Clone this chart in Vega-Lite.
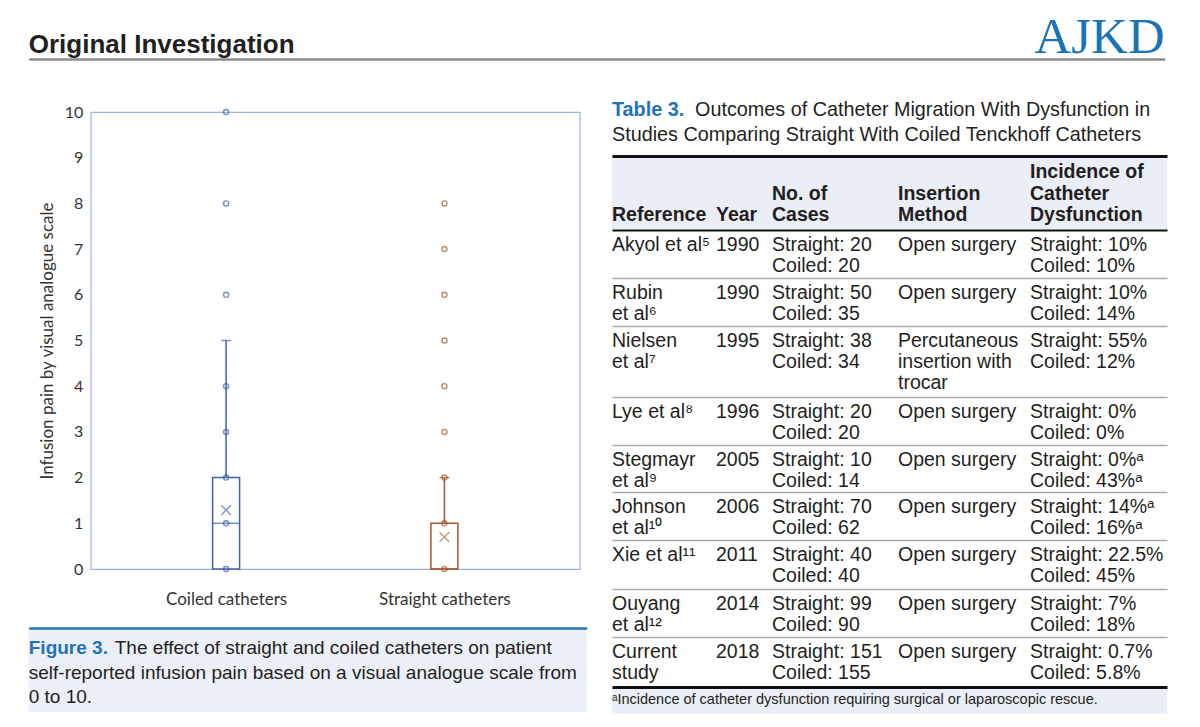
{
  "$schema": "https://vega.github.io/schema/vega-lite/v6.json",
  "background": "white",
  "padding": {"left": 28.75, "top": 0, "right": 0, "bottom": 0},
  "config": {
    "view": {"stroke": null},
    "text": {"font": "Liberation Sans", "fill": "#231F20"}
  },
  "datasets": {
    "header": [
      {"item": "section", "text": "Original Investigation"},
      {"item": "journal", "text": "AJKD"}
    ],
    "summary": [
      {"group": "Coiled catheters", "lower": 0, "q1": 0, "median": 1, "q3": 2, "upper": 5, "mean": 1.29},
      {"group": "Straight catheters", "lower": 0, "q1": 0, "median": 0, "q3": 1, "upper": 2, "mean": 0.7}
    ],
    "points": [
      {"group": "Coiled catheters", "value": 0},
      {"group": "Coiled catheters", "value": 1},
      {"group": "Coiled catheters", "value": 2},
      {"group": "Coiled catheters", "value": 3},
      {"group": "Coiled catheters", "value": 4},
      {"group": "Coiled catheters", "value": 6},
      {"group": "Coiled catheters", "value": 8},
      {"group": "Coiled catheters", "value": 10},
      {"group": "Straight catheters", "value": 0},
      {"group": "Straight catheters", "value": 1},
      {"group": "Straight catheters", "value": 2},
      {"group": "Straight catheters", "value": 3},
      {"group": "Straight catheters", "value": 4},
      {"group": "Straight catheters", "value": 5},
      {"group": "Straight catheters", "value": 6},
      {"group": "Straight catheters", "value": 7},
      {"group": "Straight catheters", "value": 8}
    ],
    "caption": [
      {"line": 1, "part": "label", "text": "Figure 3."},
      {"line": 1, "part": "text", "text": "The effect of straight and coiled catheters on patient"},
      {"line": 2, "part": "text", "text": "self-reported infusion pain based on a visual analogue scale from"},
      {"line": 3, "part": "text", "text": "0 to 10."}
    ],
    "tableTitle": [
      {"line": 1, "part": "label", "text": "Table 3."},
      {"line": 1, "part": "text", "text": "Outcomes of Catheter Migration With Dysfunction in"},
      {"line": 2, "part": "text", "text": "Studies Comparing Straight With Coiled Tenckhoff Catheters"}
    ],
    "tableHead": [
      {"col": 0, "line": 3, "text": "Reference"},
      {"col": 1, "line": 3, "text": "Year"},
      {"col": 2, "line": 2, "text": "No. of"},
      {"col": 2, "line": 3, "text": "Cases"},
      {"col": 3, "line": 2, "text": "Insertion"},
      {"col": 3, "line": 3, "text": "Method"},
      {"col": 4, "line": 1, "text": "Incidence of"},
      {"col": 4, "line": 2, "text": "Catheter"},
      {"col": 4, "line": 3, "text": "Dysfunction"}
    ],
    "tableBody": [
      {"row": 1, "col": 0, "text": "Akyol et al⁵"},
      {"row": 1, "col": 1, "text": "1990"},
      {"row": 1, "col": 2, "text": "Straight: 20\nCoiled: 20"},
      {"row": 1, "col": 3, "text": "Open surgery"},
      {"row": 1, "col": 4, "text": "Straight: 10%\nCoiled: 10%"},
      {"row": 2, "col": 0, "text": "Rubin\net al⁶"},
      {"row": 2, "col": 1, "text": "1990"},
      {"row": 2, "col": 2, "text": "Straight: 50\nCoiled: 35"},
      {"row": 2, "col": 3, "text": "Open surgery"},
      {"row": 2, "col": 4, "text": "Straight: 10%\nCoiled: 14%"},
      {"row": 3, "col": 0, "text": "Nielsen\net al⁷"},
      {"row": 3, "col": 1, "text": "1995"},
      {"row": 3, "col": 2, "text": "Straight: 38\nCoiled: 34"},
      {"row": 3, "col": 3, "text": "Percutaneous\ninsertion with\ntrocar"},
      {"row": 3, "col": 4, "text": "Straight: 55%\nCoiled: 12%"},
      {"row": 4, "col": 0, "text": "Lye et al⁸"},
      {"row": 4, "col": 1, "text": "1996"},
      {"row": 4, "col": 2, "text": "Straight: 20\nCoiled: 20"},
      {"row": 4, "col": 3, "text": "Open surgery"},
      {"row": 4, "col": 4, "text": "Straight: 0%\nCoiled: 0%"},
      {"row": 5, "col": 0, "text": "Stegmayr\net al⁹"},
      {"row": 5, "col": 1, "text": "2005"},
      {"row": 5, "col": 2, "text": "Straight: 10\nCoiled: 14"},
      {"row": 5, "col": 3, "text": "Open surgery"},
      {"row": 5, "col": 4, "text": "Straight: 0%ᵃ\nCoiled: 43%ᵃ"},
      {"row": 6, "col": 0, "text": "Johnson\net al¹⁰"},
      {"row": 6, "col": 1, "text": "2006"},
      {"row": 6, "col": 2, "text": "Straight: 70\nCoiled: 62"},
      {"row": 6, "col": 3, "text": "Open surgery"},
      {"row": 6, "col": 4, "text": "Straight: 14%ᵃ\nCoiled: 16%ᵃ"},
      {"row": 7, "col": 0, "text": "Xie et al¹¹"},
      {"row": 7, "col": 1, "text": "2011"},
      {"row": 7, "col": 2, "text": "Straight: 40\nCoiled: 40"},
      {"row": 7, "col": 3, "text": "Open surgery"},
      {"row": 7, "col": 4, "text": "Straight: 22.5%\nCoiled: 45%"},
      {"row": 8, "col": 0, "text": "Ouyang\net al¹²"},
      {"row": 8, "col": 1, "text": "2014"},
      {"row": 8, "col": 2, "text": "Straight: 99\nCoiled: 90"},
      {"row": 8, "col": 3, "text": "Open surgery"},
      {"row": 8, "col": 4, "text": "Straight: 7%\nCoiled: 18%"},
      {"row": 9, "col": 0, "text": "Current\nstudy"},
      {"row": 9, "col": 1, "text": "2018"},
      {"row": 9, "col": 2, "text": "Straight: 151\nCoiled: 155"},
      {"row": 9, "col": 3, "text": "Open surgery"},
      {"row": 9, "col": 4, "text": "Straight: 0.7%\nCoiled: 5.8%"}
    ],
    "footnote": [
      {"text": "ᵃIncidence of catheter dysfunction requiring surgical or laparoscopic rescue."}
    ]
  },
  "spacing": 0,
  "vconcat": [
    {
      "width": 1136,
      "height": 59,
      "data": {"name": "header"},
      "encoding": {
        "x": {"field": "item", "type": "nominal", "scale": {"type": "point", "domain": ["section", "journal"], "padding": 0},
              "axis": {"orient": "bottom", "labels": false, "ticks": false, "grid": false, "title": null, "domain": true, "domainColor": "#8C8C8C", "domainWidth": 2.5}},
        "text": {"field": "text"}
      },
      "layer": [
        {"transform": [{"filter": "datum.item === 'section'"}],
         "mark": {"type": "text", "align": "left", "baseline": "alphabetic", "dy": 23.5, "font": "Liberation Sans", "fontSize": 26, "fontWeight": "bold", "fill": "#231F20"}},
        {"transform": [{"filter": "datum.item === 'journal'"}],
         "mark": {"type": "text", "align": "right", "baseline": "alphabetic", "dy": 23.5, "font": "Liberation Serif", "fontSize": 51, "fill": "#1B74B8"}}
      ]
    },
    {
      "spacing": 25.25,
      "hconcat": [
        {
          "spacing": 20,
          "vconcat": [
            {"width": 1, "height": 19.6, "data": {"values": []}, "mark": {"type": "point", "opacity": 0}, "encoding": {}},
            {
              "spacing": 0,
              "hconcat": [
                {"width": 8, "height": 1, "data": {"values": []}, "mark": {"type": "point", "opacity": 0}, "encoding": {}},
                {
                  "width": 489,
                  "height": 457,
                  "view": {"stroke": "#9DB3DE", "strokeWidth": 1.2, "fill": "white"},
                  "encoding": {
                    "x": {"field": "group", "type": "nominal",
                          "scale": {"type": "point", "domain": ["Coiled catheters", "Straight catheters"], "padding": 0.62},
                          "axis": {"title": null, "ticks": false, "tickSize": 0, "domain": false, "grid": false, "labelPadding": 22, "labelAngle": 0, "labelFont": "Lato", "labelFontSize": 17, "labelColor": "#333333"}}
                  },
                  "layer": [
                    {"data": {"name": "summary"},
                     "mark": {"type": "rule", "strokeWidth": 1.5},
                     "encoding": {
                       "y": {"field": "q3", "type": "quantitative", "title": "Infusion pain by visual analogue scale",
                             "scale": {"domain": [0, 10], "nice": false},
                             "axis": {"values": [0, 1, 2, 3, 4, 5, 6, 7, 8, 9, 10], "grid": false, "ticks": false, "tickSize": 0, "domain": false, "labelPadding": 8, "labelFont": "Lato", "labelFontSize": 16, "labelColor": "#333333", "titleFont": "Lato", "titleFontSize": 17, "titleFontWeight": "normal", "titleColor": "#333333", "titlePadding": 8}},
                       "y2": {"field": "upper"},
                       "color": {"field": "group", "type": "nominal", "scale": {"domain": ["Coiled catheters", "Straight catheters"], "range": ["#3F62AC", "#A4572C"]}, "legend": null}
                     }},
                    {"data": {"name": "summary"},
                     "mark": {"type": "rule", "strokeWidth": 1.5},
                     "encoding": {
                       "y": {"field": "lower", "type": "quantitative", "title": "Infusion pain by visual analogue scale"},
                       "y2": {"field": "q1"},
                       "color": {"field": "group", "type": "nominal", "legend": null}
                     }},
                    {"data": {"name": "summary"},
                     "mark": {"type": "bar", "size": 27, "fill": "white", "strokeWidth": 1.5},
                     "encoding": {
                       "y": {"field": "q1", "type": "quantitative", "title": "Infusion pain by visual analogue scale"},
                       "y2": {"field": "q3"},
                       "stroke": {"field": "group", "type": "nominal", "scale": {"domain": ["Coiled catheters", "Straight catheters"], "range": ["#3F62AC", "#A4572C"]}, "legend": null}
                     }},
                    {"data": {"name": "summary"},
                     "mark": {"type": "tick", "orient": "horizontal", "size": 27, "thickness": 1.5},
                     "encoding": {
                       "y": {"field": "median", "type": "quantitative", "title": "Infusion pain by visual analogue scale"},
                       "color": {"field": "group", "type": "nominal", "legend": null}
                     }},
                    {"data": {"name": "summary"},
                     "mark": {"type": "tick", "orient": "horizontal", "size": 10, "thickness": 1.5},
                     "encoding": {
                       "y": {"field": "upper", "type": "quantitative", "title": "Infusion pain by visual analogue scale"},
                       "color": {"field": "group", "type": "nominal", "legend": null}
                     }},
                    {"data": {"name": "summary"},
                     "mark": {"type": "point", "shape": "M-1,-1L1,1M-1,1L1,-1", "size": 95, "filled": false, "strokeWidth": 1.3},
                     "encoding": {
                       "y": {"field": "mean", "type": "quantitative", "title": "Infusion pain by visual analogue scale"},
                       "color": {"field": "group", "type": "nominal", "legend": null}
                     }},
                    {"data": {"name": "points"},
                     "mark": {"type": "point", "shape": "circle", "size": 26, "filled": false, "strokeWidth": 1.4},
                     "encoding": {
                       "y": {"field": "value", "type": "quantitative", "title": "Infusion pain by visual analogue scale"},
                       "color": {"field": "group", "type": "nominal", "legend": null}
                     }}
                  ]
                }
              ]
            },
            {
              "width": 558,
              "height": 84,
              "view": {"fill": "#EBF0F8", "stroke": null},
              "data": {"name": "caption"},
              "encoding": {
                "x": {"datum": 0, "type": "quantitative", "scale": {"domain": [0, 1]},
                      "axis": {"orient": "top", "labels": false, "ticks": false, "grid": false, "title": null, "domain": true, "domainColor": "#2176B6", "domainWidth": 2.5}},
                "y": {"field": "line", "type": "quantitative", "scale": {"domain": [1, 3], "range": [26, 75]}, "axis": null},
                "text": {"field": "text"}
              },
              "layer": [
                {"transform": [{"filter": "datum.part === 'label'"}],
                 "mark": {"type": "text", "align": "left", "baseline": "alphabetic", "font": "Liberation Sans", "fontSize": 19, "fontWeight": "bold", "fill": "#1E73B8"}},
                {"transform": [{"filter": "datum.part === 'text' && datum.line === 1"}],
                 "mark": {"type": "text", "align": "left", "baseline": "alphabetic", "font": "Liberation Sans", "fontSize": 19, "fill": "#231F20", "dx": 86}},
                {"transform": [{"filter": "datum.part === 'text' && datum.line > 1"}],
                 "mark": {"type": "text", "align": "left", "baseline": "alphabetic", "font": "Liberation Sans", "fontSize": 19, "fill": "#231F20"}}
              ]
            }
          ]
        },
        {
          "spacing": 0,
          "bounds": "flush",
          "vconcat": [
            {
              "width": 555,
              "height": 92.6,
              "data": {"name": "tableTitle"},
              "encoding": {
                "x": {"datum": 0, "type": "quantitative", "scale": {"domain": [0, 1]}, "axis": null},
                "y": {"field": "line", "type": "quantitative", "scale": {"domain": [1, 2], "range": [52.6, 78.3]}, "axis": null},
                "text": {"field": "text"}
              },
              "layer": [
                {"transform": [{"filter": "datum.part === 'label'"}],
                 "mark": {"type": "text", "align": "left", "baseline": "alphabetic", "font": "Liberation Sans", "fontSize": 19.8, "fontWeight": "bold", "fill": "#1E73B8"}},
                {"transform": [{"filter": "datum.part === 'text' && datum.line === 1"}],
                 "mark": {"type": "text", "align": "left", "baseline": "alphabetic", "font": "Liberation Sans", "fontSize": 19.8, "fill": "#231F20", "dx": 83}},
                {"transform": [{"filter": "datum.part === 'text' && datum.line > 1"}],
                 "mark": {"type": "text", "align": "left", "baseline": "alphabetic", "font": "Liberation Sans", "fontSize": 19.8, "fill": "#231F20"}}
              ]
            },
            {
              "width": 555,
              "height": 73.3,
              "view": {"fill": "#E9EEF7", "stroke": null},
              "data": {"name": "tableHead"},
              "mark": {"type": "text", "align": "left", "baseline": "alphabetic", "font": "Liberation Sans", "fontSize": 19.5, "fontWeight": "bold", "fill": "#231F20"},
              "encoding": {
                "x": {"field": "col", "type": "quantitative", "scale": {"domain": [0, 1, 2, 3, 4, 5], "range": [0, 104, 160, 286, 418, 555], "nice": false, "zero": false},
                      "axis": {"orient": "top", "labels": false, "ticks": false, "grid": false, "title": null, "domain": true, "domainColor": "#111111", "domainWidth": 3}},
                "y": {"field": "line", "type": "quantitative", "scale": {"domain": [1, 3], "range": [22, 65]}, "axis": null},
                "text": {"field": "text"}
              }
            },
            {
              "width": 555,
              "height": 456.7,
              "data": {"name": "tableBody"},
              "mark": {"type": "text", "align": "left", "baseline": "alphabetic", "dy": 21, "lineBreak": "\n", "lineHeight": 21, "font": "Liberation Sans", "fontSize": 19.5, "fill": "#231F20"},
              "encoding": {
                "x": {"field": "col", "type": "quantitative", "scale": {"domain": [0, 1, 2, 3, 4, 5], "range": [0, 104, 160, 286, 418, 555], "nice": false, "zero": false},
                      "axis": {"orient": "top", "labels": false, "ticks": false, "grid": false, "title": null, "domain": true, "domainColor": "#111111", "domainWidth": 2}},
                "y": {"field": "row", "type": "quantitative",
                      "scale": {"domain": [1, 2, 3, 4, 5, 6, 7, 8, 9, 10], "range": [0, 48.4, 95.7, 166.7, 214.7, 262.4, 310.2, 359, 407.4, 456.7], "nice": false, "zero": false},
                      "axis": {"orient": "left", "values": [2, 3, 4, 5, 6, 7, 8, 9], "labels": false, "ticks": false, "domain": false, "title": null, "grid": true, "gridColor": "#ABABAB", "gridWidth": 1.5}},
                "text": {"field": "text"}
              }
            },
            {
              "width": 555,
              "height": 26.7,
              "view": {"fill": "#E9EEF7", "stroke": null},
              "data": {"name": "footnote"},
              "mark": {"type": "text", "align": "left", "baseline": "middle", "font": "Liberation Sans", "fontSize": 14.5, "fill": "#231F20"},
              "encoding": {
                "x": {"datum": 0, "type": "quantitative", "scale": {"domain": [0, 1]},
                      "axis": {"orient": "top", "labels": false, "ticks": false, "grid": false, "title": null, "domain": true, "domainColor": "#111111", "domainWidth": 3}},
                "text": {"field": "text"}
              }
            }
          ]
        }
      ]
    }
  ]
}
